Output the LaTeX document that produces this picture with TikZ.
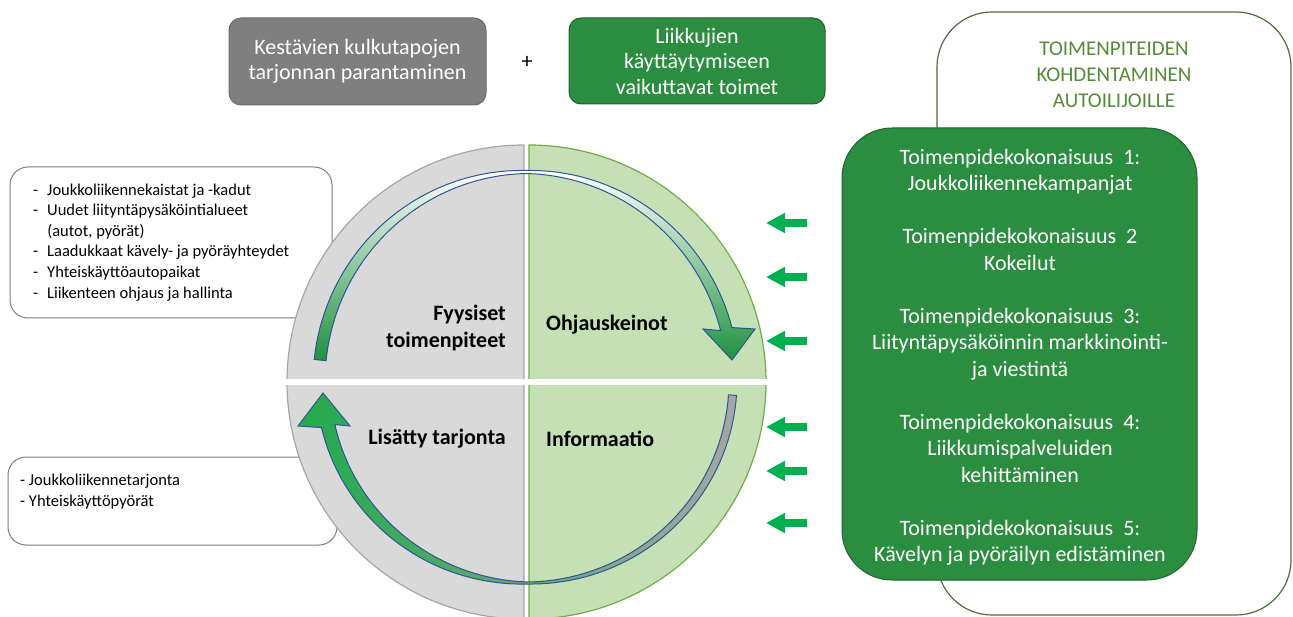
\documentclass[tikz,border=0pt]{standalone}
\usepackage{fontspec}
\setmainfont{Carlito}
\usetikzlibrary{calc,arrows.meta}

\definecolor{quadgray}{RGB}{217,217,217}
\definecolor{quadgrayline}{RGB}{166,166,166}
\definecolor{quadgreen}{RGB}{197,224,180}
\definecolor{quadgreenline}{RGB}{112,173,71}
\definecolor{boxgreen}{RGB}{43,141,64}
\definecolor{boxgreenline}{RGB}{30,100,45}
\definecolor{boxgray}{RGB}{127,127,127}
\definecolor{titlegreen}{RGB}{84,140,53}
\definecolor{framegreen}{RGB}{80,110,60}
\definecolor{arrowgreen}{RGB}{0,176,80}
\definecolor{cyclegreen}{RGB}{34,170,75}
\definecolor{cycledark}{RGB}{30,145,62}
\definecolor{cycleline}{RGB}{47,85,151}

\tikzset{
  bigtext/.style={font=\fontsize{22}{25.5}\selectfont, align=center},
  listtext/.style={font=\fontsize{16.5}{20.6}\selectfont, align=left, inner sep=0pt},
  quadtext/.style={font=\bfseries\fontsize{22}{27}\selectfont, inner sep=0pt},
  topbox/.style={bigtext, rounded corners=12pt, text=white, line width=1pt},
  listbox/.style={draw=boxgray, rounded corners=18pt, line width=1pt, fill=white},
  feedarrow/.style={arrowgreen, line width=8pt, -{Triangle[length=19pt,width=19pt]}},
}

\begin{document}
\begin{tikzpicture}[x=1pt,y=-1pt]
\useasboundingbox (0,0) rectangle (1293,617);

\node[topbox, fill=boxgray, draw=boxgray!85!black, minimum width=257pt, minimum height=87pt] (supply) at (357.5,61.5) {Kestävien kulkutapojen\\tarjonnan parantaminen};
\node[bigtext] (plus) at (527,62) {+};
\node[topbox, fill=boxgreen, draw=boxgreenline, minimum width=256pt, minimum height=86pt] (behaviour) at (697,61) {Liikkujien\\käyttäytymiseen\\vaikuttavat toimet};

\node[draw=framegreen, line width=1.2pt, rounded corners=55pt, minimum width=354pt, minimum height=603pt] (target) at (1114,313.5) {};
\node[font=\fontsize{21}{26}\selectfont, align=center, text=titlegreen] (targettitle) at (1114,75) {TOIMENPITEIDEN\\KOHDENTAMINEN\\AUTOILIJOILLE};
\node[fill=boxgreen, draw=boxgreenline, line width=1pt, rounded corners=50pt, minimum width=355pt, minimum height=452pt] (packages) at (1019.5,354) {};
\node[font=\fontsize{22}{26.5}\selectfont, align=center, text=white, inner sep=0pt] (packagetext) at (1020,357) {Toimenpidekokonaisuus\ \ 1:\\Joukkoliikennekampanjat\\[26.5pt]
Toimenpidekokonaisuus\ \ 2\\Kokeilut\\[26.5pt]
Toimenpidekokonaisuus\ \ 3:\\Liityntäpysäköinnin markkinointi-\\ja viestintä\\[26.5pt]
Toimenpidekokonaisuus\ \ 4:\\Liikkumispalveluiden\\kehittäminen\\[26.5pt]
Toimenpidekokonaisuus\ \ 5:\\Kävelyn ja pyöräilyn edistäminen};

\node[listbox, minimum width=322pt, minimum height=151pt] (physbox) at (171,242.5) {};
\node[listtext, anchor=west] (physlist) at (33,242.5) {\begin{tabular}{@{}l@{\hspace{9pt}}l@{}}
-&Joukkoliikennekaistat ja -kadut\\
-&Uudet liityntäpysäköintialueet\\
&(autot, pyörät)\\
-&Laadukkaat kävely- ja pyöräyhteydet\\
-&Yhteiskäyttöautopaikat\\
-&Liikenteen ohjaus ja hallinta
\end{tabular}};
\node[listbox, minimum width=329pt, minimum height=88pt] (offerbox) at (172.5,501) {};
\node[listtext, anchor=west] (offerlist) at (20,491.5) {- Joukkoliikennetarjonta\\- Yhteiskäyttöpyörät};

\filldraw[fill=quadgray, draw=quadgrayline, line width=1.2pt] (524,145) arc[start angle=270, end angle=90, radius=237] -- cycle;
\filldraw[fill=quadgreen, draw=quadgreenline, line width=1.2pt] (529,145) arc[start angle=-90, end angle=90, radius=237] -- cycle;
\fill[white] (283,379) rectangle (771,385);

\shadedraw[top color=white, bottom color=cycledark, draw=cycleline, line width=1pt]
  plot[domain=186:345.4, samples=80, variable=\t] ({526+(207+1.5+4.5*abs(cos(\t)))*cos(\t)},{382+(210+1.5+4.5*abs(cos(\t)))*sin(\t)})
  -- (755,329) -- (732,360) -- (703,329)
  -- plot[domain=345.4:186, samples=80, variable=\t] ({526+(207-1.5-4.5*abs(cos(\t)))*cos(\t)},{382+(210-1.5-4.5*abs(cos(\t)))*sin(\t)})
  -- cycle;
\shadedraw[left color=cyclegreen, right color=quadgrayline, draw=cycleline, line width=1pt]
  plot[domain=4:167.1, samples=80, variable=\t] ({528+(205+1+4.5*abs(cos(\t))-1.5*cos(\t))*cos(\t)},{381+(202+1+4.5*abs(cos(\t))-1.5*cos(\t))*sin(\t)})
  -- (298,426) -- (323,393) -- (350,426)
  -- plot[domain=167.1:4, samples=80, variable=\t] ({528+(205-1-4.5*abs(cos(\t))+1.5*cos(\t))*cos(\t)},{381+(202-1-4.5*abs(cos(\t))+1.5*cos(\t))*sin(\t)})
  -- cycle;

\node[quadtext, align=right, anchor=east] (physical) at (506,328.5) {Fyysiset\\toimenpiteet};
\node[quadtext, anchor=west] (steering) at (546,325) {Ohjauskeinot};
\node[quadtext, anchor=east] (offer) at (506,439) {Lisätty tarjonta};
\node[quadtext, anchor=west] (info) at (546,439) {Informaatio};

\foreach \y [count=\i] in {223,277,341,427,471,523} {
  \coordinate (from\i) at (807,\y);
  \coordinate (to\i) at (766,\y);
  \draw[feedarrow] (from\i) -- (to\i);
}
\end{tikzpicture}
\end{document}
